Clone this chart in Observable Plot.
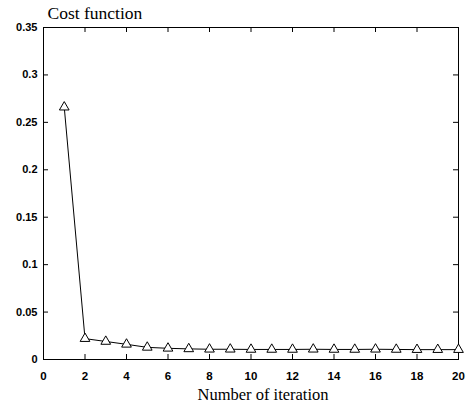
<!DOCTYPE html>
<html>
<head>
<meta charset="utf-8">
<script src="https://cdn.jsdelivr.net/npm/d3@7"></script>
<script src="https://cdn.jsdelivr.net/npm/@observablehq/plot@0.6"></script>
<style>
  html, body { margin: 0; padding: 0; background: #fff; }
  #chart svg { display: block; }
</style>
</head>
<body>
<div id="chart"></div>
<script>
const iterations = [1, 2, 3, 4, 5, 6, 7, 8, 9, 10, 11, 12, 13, 14, 15, 16, 17, 18, 19, 20];
const cost = [0.266, 0.022, 0.019, 0.016, 0.0128, 0.0118, 0.0112, 0.0108, 0.0108, 0.0106, 0.0106, 0.0106, 0.0108, 0.0106, 0.0106, 0.0108, 0.0106, 0.0104, 0.0104, 0.0104];
const xTicks = [0, 2, 4, 6, 8, 10, 12, 14, 16, 18, 20];
const yTicks = [0, 0.05, 0.1, 0.15, 0.2, 0.25, 0.3, 0.35];
const yTickLabels = ["0", "0.05", "0.1", "0.15", "0.2", "0.25", "0.3", "0.35"];
const xTitle = "Number of iteration";
const yTitle = "Cost function";

const data = iterations.map((x, i) => ({x, y: cost[i]}));

const W = 475, H = 408;
const mL = 43, mR = 17, mT = 27, mB = 49;
const innerH = H - mT - mB;
const innerW = W - mL - mR;
const tk = 5;

const chart = Plot.plot({
  width: W,
  height: H,
  marginLeft: mL,
  marginRight: mR,
  marginTop: mT,
  marginBottom: mB,
  style: {fontFamily: "'Liberation Sans', Arial, sans-serif", fontSize: "11px", background: "#fff", color: "#000"},
  x: {domain: [0, 20]},
  y: {domain: [0, 0.35]},
  marks: [
    Plot.frame({stroke: "#000", strokeWidth: 1}),
    // inward ticks bottom & top
    Plot.tickX(xTicks, {x: d => d, insetTop: innerH - tk, stroke: "#000"}),
    Plot.tickX(xTicks, {x: d => d, insetBottom: innerH - tk, stroke: "#000"}),
    // inward ticks left & right
    Plot.tickY(yTicks, {y: d => d, insetRight: innerW - tk, stroke: "#000"}),
    Plot.tickY(yTicks, {y: d => d, insetLeft: innerW - tk, stroke: "#000"}),
    Plot.axisX({ticks: xTicks, tickSize: 0, tickPadding: 12, label: null, tickFormat: d => String(d), fontWeight: "bold", fontSize: 11.5}),
    Plot.axisY({ticks: yTicks, tickSize: 0, tickPadding: 6, label: null, tickFormat: d => yTickLabels[yTicks.indexOf(d)], fontWeight: "bold", fontSize: 11}),
    Plot.line(data, {x: "x", y: "y", stroke: "#000", strokeWidth: 1}),
    Plot.dot(data, {x: "x", y: "y", symbol: "triangle", r: 3.6, fill: "#fff", stroke: "#000", strokeWidth: 1}),
    Plot.text([yTitle], {text: d => d, frameAnchor: "top-left", lineAnchor: "middle", dx: 4, dy: -14, fontFamily: "'Liberation Serif', 'Times New Roman', serif", fontSize: 17.5, textAnchor: "start"}),
    Plot.text([xTitle], {text: d => d, frameAnchor: "bottom", lineAnchor: "middle", dy: 35, dx: 12, fontFamily: "'Liberation Serif', 'Times New Roman', serif", fontSize: 16.5})
  ]
});
document.getElementById("chart").appendChild(chart);
</script>
</body>
</html>
